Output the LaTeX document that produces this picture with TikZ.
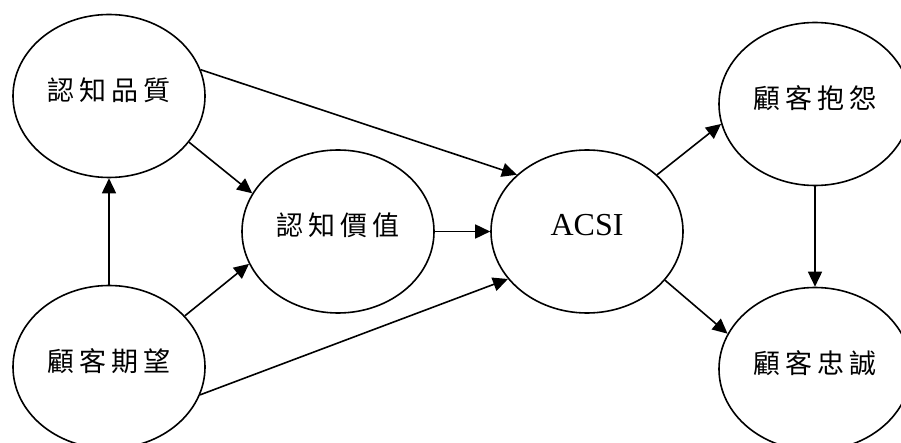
\documentclass[tikz,border=0pt]{standalone}
\usepackage{fontspec}
\setmainfont{Liberation Serif}
\newfontfamily\cjk{Noto Sans CJK TC}
\usetikzlibrary{shapes.geometric,arrows.meta}
\newcommand\gapx{\hspace{5pt}}
\newcommand\up[1]{\raisebox{6pt}[\height][\depth]{#1}}
\begin{document}
\begin{tikzpicture}[x=1pt,y=-1pt,
  ell/.style={ellipse,draw,line width=1.6pt,minimum width=192pt,minimum height=163pt,inner sep=0pt},
  arr/.style={line width=1.6pt,-{Triangle[length=15pt,width=14pt]}},
  cj/.style={font=\cjk\fontsize{27}{31}\selectfont},
  lat/.style={font=\fontsize{32}{36}\selectfont}]
\useasboundingbox (0,0) rectangle (901,443);
\node[ell,cj] (pq) at (109,96) {\up{認\gapx 知\gapx 品\gapx 質}};
\node[ell,cj] (ce) at (109,367) {\up{顧\gapx 客\gapx 期\gapx 望}};
\node[ell,cj] (pv) at (338,231.5) {\up{認\gapx 知\gapx 價\gapx 值}};
\node[ell,lat] (acsi) at (587,231.5) {\up{ACSI}};
\node[ell,cj] (cc) at (815,104) {\up{顧\gapx 客\gapx 抱\gapx 怨}};
\node[ell,cj] (cl) at (815,369) {\up{顧\gapx 客\gapx 忠\gapx 誠}};
\draw[arr] (ce.90) -- (pq.-90);
\draw[arr] (pq.16) -- (acsi.141);
\draw[arr] (pq.-30) -- (pv.156);
\draw[arr] (ce.34) -- (pv.200);
\draw[arr] (ce.-17) -- (acsi.211);
\draw[arr] (pv.0) -- (acsi.180);
\draw[arr] (acsi.39) -- (cc.192);
\draw[arr] (acsi.-32) -- (cl.158);
\draw[arr] (cc.-90) -- (cl.90);
\end{tikzpicture}
\end{document}
